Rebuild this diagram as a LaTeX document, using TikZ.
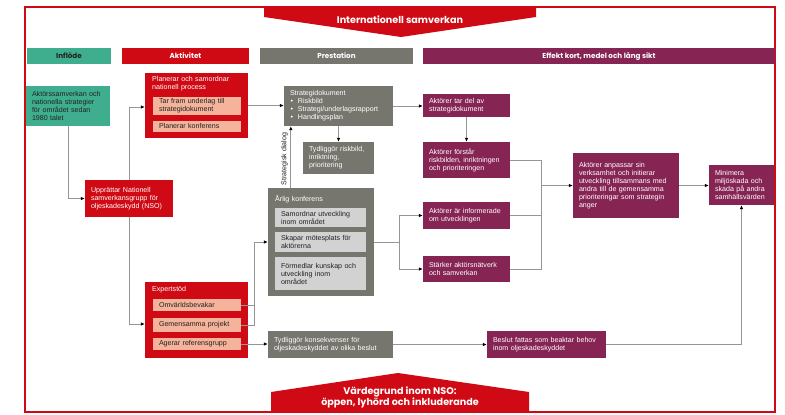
\documentclass[tikz,border=0pt]{standalone}
\usepackage{fontspec}
\setmainfont{Liberation Sans}
\newfontfamily\hdrfont{Poppins}
\usetikzlibrary{arrows.meta,calc}
\definecolor{ngreen}{HTML}{3FAE8E}
\definecolor{nred}{HTML}{D00A14}
\definecolor{ngray}{HTML}{77766E}
\definecolor{npurple}{HTML}{862554}
\definecolor{nsalmon}{HTML}{F4B39A}
\definecolor{nlgray}{HTML}{D2D2D2}
\definecolor{nline}{HTML}{959595}
\definecolor{ntext}{HTML}{222222}
\newcommand\bodyfs{\fontsize{7.1}{8}\selectfont}
\newcommand\headfs{\hdrfont\bfseries\fontsize{7.2}{8}\selectfont}
\newcommand\bannerfs{\hdrfont\bfseries\fontsize{9.6}{11}\selectfont}
\newcommand\bul{\makebox[8pt][l]{\hspace{0.5pt}\textbullet}}
\begin{document}
\begin{tikzpicture}[x=1pt,y=-1pt,
  txt/.style={font=\bodyfs, align=left, inner xsep=6pt, inner ysep=1pt},
  sz/.style n args={3}{minimum width=#1pt, minimum height=#2pt, text width=#3pt},
  redbox/.style={txt, fill=nred, text=white},
  graybox/.style={txt, fill=ngray, text=white},
  purbox/.style={txt, fill=npurple, text=white},
  grnbox/.style={txt, fill=ngreen, text=ntext},
  salbox/.style={txt, fill=nsalmon, text=ntext},
  lgbox/.style={txt, fill=nlgray, text=ntext},
  container/.style={inner sep=0pt},
  title/.style={txt, anchor=north west, inner sep=0pt, text=white},
  header/.style={font=\headfs, inner sep=0pt, minimum height=16pt},
  ln/.style={draw=nline, line width=0.9pt},
  arr/.style={draw=nline, line width=0.9pt, -{Latex[length=4pt,width=3.6pt,color=black]}}]
\fill[white] (0,0) rectangle (785,415);
\useasboundingbox (0,0) rectangle (785,415);

% frame
\draw[nred, line width=1.3pt] (25,7) rectangle (775,412);

% banners
\fill[nred] (264,7) -- (536,7) -- (536,17) -- (401,37) -- (264,17) -- cycle;
\node[text=white, font=\bannerfs] (intl) at (400,19.5) {Internationell samverkan};
\fill[nred] (271,411.5) -- (271,392) -- (398,373) -- (529,392) -- (529,411.5) -- cycle;
\node[text=white, font=\bannerfs, align=center] (vard) at (400,397.5) {Värdegrund inom NSO:\\öppen, lyhörd och inkluderande};

% headers
\node[header, fill=ngreen, text=ntext, minimum width=84pt] (hin) at (69,56) {Inflöde};
\node[header, fill=nred, text=white, minimum width=127pt] (hakt) at (185.5,56) {Aktivitet};
\node[header, fill=ngray, text=white, minimum width=153pt] (hpre) at (336.5,56) {Prestation};
\node[header, fill=npurple, text=white, minimum width=352pt] (heff) at (599,56) {Effekt kort, medel och lång sikt};

% inflöde
\node[grnbox, sz={84}{40}{72}] (aktor) at (68,106) {Aktörssamverkan och\\nationella strategier\\för området sedan\\1980 talet};

% aktivitet
\node[redbox, sz={88}{37}{76}] (uppr) at (129,198.5) {Upprättar Nationell\\samverkansgrupp för\\oljeskadeskydd (NSO)};

\node[container, fill=nred, minimum width=103pt, minimum height=65pt] (plan) at (196.5,105.5) {};
\node[title, text width=92pt] (plant) at (152,76.5) {Planerar och samordnar\\nationell process};
\node[salbox, sz={88}{18}{76}] (tarfram) at (197,106) {Tar fram underlag till\\strategidokument};
\node[salbox, sz={88}{11}{76}] (plkonf) at (197,126) {Planerar konferens};

\node[container, fill=nred, minimum width=103pt, minimum height=76pt] (exp) at (196.5,320) {};
\node[title, text width=92pt] (expt) at (152,286.5) {Expertstöd};
\node[salbox, sz={88}{12}{76}] (omv) at (197,305) {Omvärldsbevakar};
\node[salbox, sz={88}{14}{76}] (gem) at (197,325) {Gemensamma projekt};
\node[salbox, sz={88}{12}{76}] (agr) at (197,344) {Agerar referensgrupp};

% prestation
\node[graybox, sz={109}{40}{97}] (strat) at (338.5,106) {Strategidokument\\\bul Riskbild\\\bul Strategi/underlagsrapport\\\bul Handlingsplan};
\node[graybox, sz={71}{32}{59}] (risk) at (338.5,158) {Tydliggör riskbild,\\inriktning,\\prioritering};

\node[container, fill=ngray, minimum width=106pt, minimum height=108pt] (arlig) at (321,242) {};
\node[title, text width=95pt] (arligt) at (275,195) {Årlig konferens};
\node[lgbox, sz={91}{19}{79}] (samo) at (320.5,217.5) {Samordnar utveckling\\inom området};
\node[lgbox, sz={91}{20}{79}] (skap) at (320.5,242) {Skapar mötesplats för\\aktörerna};
\node[lgbox, sz={91}{33}{79}] (form) at (320.5,273.5) {Förmedlar kunskap och\\utveckling inom\\området};

\node[graybox, sz={125}{27}{113}] (kons) at (330.5,344.5) {Tydliggör konsekvenser för\\oljeskadeskyddet av olika beslut};

\node[font=\bodyfs, text=ntext, rotate=90, inner sep=0pt] (sd) at (284.5,159) {Strategisk dialog};

% effekt
\node[purbox, sz={87}{23}{75}] (tardel) at (466.5,105.5) {Aktörer tar del av\\strategidokument};
\node[purbox, sz={87}{36}{75}] (forstar) at (466.5,160) {Aktörer förstår\\riskbilden, inriktningen\\och prioriteringen};
\node[purbox, sz={87}{27}{75}] (info) at (466.5,215.5) {Aktörer är informerade\\om utvecklingen};
\node[purbox, sz={87}{26}{75}] (stark) at (466.5,269) {Stärker aktörsnätverk\\och samverkan};
\node[purbox, sz={106}{65}{94}] (anp) at (626,185.5) {Aktörer anpassar sin\\verksamhet och initierar\\utveckling tillsammans med\\andra till de gemensamma\\prioriteringar som strategin\\anger};
\node[purbox, sz={65}{40}{53}] (minim) at (741.5,185) {Minimera\\miljöskada och\\skada på andra\\samhällsvärden};
\node[purbox, sz={119}{27}{107}] (beslut) at (546.5,344.5) {Beslut fattas som beaktar behov\\inom oljeskadeskyddet};

% connectors
\draw[arr] (aktor.south) |- (uppr.west);
\draw[arr] (uppr.north) |- ($(plan.west)+(0,1.5)$);
\draw[arr] (uppr.south) |- ($(exp.west)+(0,4)$);
\draw[arr] (plan.east) -- (plan.east -| strat.west);
\draw[arr] (strat.south) -- (risk.north);
\draw[arr] ($(arlig.north west)+(23,0)$) -- ($(strat.south west)+(7,0)$);
\coordinate (j1) at ($(arlig.west)+(-13,0)$);
\draw[ln] (gem.east) -| (j1);
\draw[ln] (omv.east) -- (omv.east -| j1);
\draw[arr] (j1) -- (arlig.west);
\draw[arr] (agr.east) -- (agr.east -| kons.west);
\draw[arr] (kons.east) -- (beslut.west);
\draw[arr] (beslut.east) -| (minim.south);
\draw[arr] (strat.east) -- (strat.east -| tardel.west);
\draw[arr] (tardel.south) -- (forstar.north);
\coordinate (j2) at ($(arlig.east)+(25,0)$);
\draw[ln] (arlig.east) -- (j2);
\draw[arr] (j2) |- (info.west);
\draw[arr] (j2) |- (stark.west);
\coordinate (j3) at ($(anp.west)+(-31,0)$);
\draw[ln] (forstar.east) -| (j3);
\draw[ln] (stark.east) -| (j3);
\draw[ln] (info.east) -- (info.east -| j3);
\draw[arr] (j3) -- (anp.west);
\draw[arr] (anp.east) -- (anp.east -| minim.west);
\end{tikzpicture}
\end{document}
